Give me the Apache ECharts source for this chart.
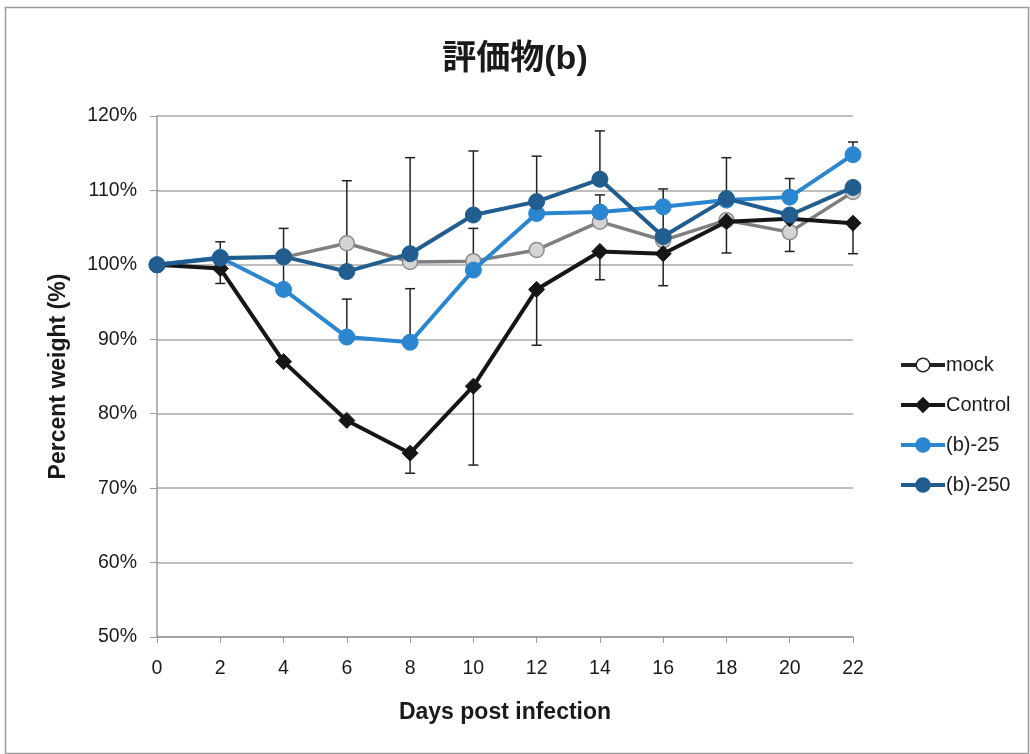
<!DOCTYPE html>
<html>
<head>
<meta charset="utf-8">
<script src="https://cdn.jsdelivr.net/npm/echarts@6/dist/echarts.min.js"></script>
<style>
html,body{margin:0;padding:0;background:#fff;}
#c{width:1030px;height:754px;}
</style>
</head>
<body>
<div id="c"></div>
<script>
var days = ['0','2','4','6','8','10','12','14','16','18','20','22'];
var yTicks = [50, 60, 70, 80, 90, 100, 110, 120];
var mock    = [100, 101.0, 101.0, 102.9, 100.4, 100.5, 102.0, 105.8, 103.3, 106.0, 104.4, 109.8];
var control = [100, 99.5, 87.0, 79.1, 74.7, 83.7, 96.7, 101.8, 101.5, 105.8, 106.2, 105.6];
var b25     = [100, 101.0, 96.7, 90.3, 89.6, 99.3, 106.9, 107.1, 107.8, 108.7, 109.1, 114.8];
var b250    = [100, 100.9, 101.1, 99.1, 101.5, 106.7, 108.5, 111.5, 103.8, 108.9, 106.7, 110.4];
// error bar segments: day index, low, high
var errDay  = [1, 2, 3, 3, 4, 4, 4, 5, 5, 5, 6, 6, 7, 7, 7, 8, 8, 9, 9, 10, 10, 11, 11];
var errLow  = [97.5, 96.9, 99.1, 90.3, 101.5, 89.6, 72.0, 106.7, 99.3, 73.1, 108.5, 89.2, 111.5, 107.1, 98.0, 103.8, 97.2, 108.9, 101.6, 109.1, 101.8, 114.8, 101.5];
var errHigh = [103.1, 104.9, 111.3, 95.4, 114.4, 96.8, 74.7, 115.3, 104.9, 83.7, 114.6, 96.7, 118.0, 109.4, 101.8, 110.2, 101.5, 114.4, 105.8, 111.6, 106.2, 116.5, 105.6];

var errData = errDay.map(function (d, i) { return [d, errLow[i], errHigh[i]]; });

var FONT = '"Liberation Sans", Arial, "Noto Sans CJK JP", sans-serif';
var chart = echarts.init(document.getElementById('c'));
chart.setOption({
  animation: false,
  backgroundColor: '#fff',
  textStyle: { fontFamily: FONT },
  graphic: [{
    type: 'rect', shape: { x: 5.5, y: 7.5, width: 1023, height: 746 }, silent: true,
    style: { fill: 'none', stroke: '#9a9a9a', lineWidth: 1.5 }, z: -10
  }],
  title: {
    text: '評価物(b)', left: 'center', top: 38,
    textStyle: { fontFamily: FONT, fontSize: 34, fontWeight: 'bold', color: '#1a1a1a' }
  },
  legend: {
    orient: 'vertical', left: 894, top: 350, itemGap: 20, itemWidth: 44, itemHeight: 17,
    textStyle: { fontFamily: FONT, fontSize: 20, color: '#1a1a1a', padding: [0, 0, 0, -4] },
    data: [
      { name: 'mock', itemStyle: { color: '#ffffff', borderColor: '#222', borderWidth: 1.5 }, lineStyle: { color: '#222', width: 4 } },
      { name: 'Control', lineStyle: { width: 4 } },
      { name: '(b)-25', lineStyle: { width: 4 } },
      { name: '(b)-250', lineStyle: { width: 4 } }
    ]
  },
  grid: { left: 157, right: 177, top: 116, bottom: 117, containLabel: false },
  xAxis: {
    type: 'category', data: days, boundaryGap: false,
    name: 'Days post infection', nameLocation: 'middle', nameGap: 64,
    nameTextStyle: { fontFamily: FONT, fontSize: 23, fontWeight: 'bold', color: '#1a1a1a' },
    axisLine: { lineStyle: { color: '#9a9a9a', width: 1.5 } },
    axisTick: { show: true, length: 6, lineStyle: { color: '#9a9a9a' } },
    axisLabel: { margin: 22, fontSize: 19.5, color: '#1a1a1a', fontFamily: FONT },
    splitLine: { show: false }
  },
  yAxis: {
    type: 'value', min: 50, max: 120, interval: 10,
    name: 'Percent weight (%)', nameLocation: 'middle', nameGap: 87,
    nameTextStyle: { fontFamily: FONT, fontSize: 23, fontWeight: 'bold', color: '#1a1a1a' },
    axisLine: { show: true, lineStyle: { color: '#9a9a9a', width: 1.5 } },
    axisTick: { show: true, length: 7, lineStyle: { color: '#9a9a9a' } },
    axisLabel: {
      margin: 20, fontSize: 19.5, color: '#1a1a1a', fontFamily: FONT,
      formatter: function (v) { return yTicks.indexOf(v) >= 0 ? v + '%' : ''; }
    },
    splitLine: { lineStyle: { color: '#a8a8a8', width: 1.5 } }
  },
  series: [
    {
      name: 'errors', type: 'custom', z: 1, silent: true, data: errData,
      renderItem: function (params, api) {
        var x = api.value(0);
        var lo = api.coord([x, api.value(1)]);
        var hi = api.coord([x, api.value(2)]);
        var w = 5;
        var st = { stroke: '#222', lineWidth: 1.5 };
        return {
          type: 'group',
          children: [
            { type: 'line', shape: { x1: lo[0], y1: lo[1], x2: hi[0], y2: hi[1] }, style: st },
            { type: 'line', shape: { x1: hi[0] - w, y1: hi[1], x2: hi[0] + w, y2: hi[1] }, style: st },
            { type: 'line', shape: { x1: lo[0] - w, y1: lo[1], x2: lo[0] + w, y2: lo[1] }, style: st }
          ]
        };
      }
    },
    {
      name: 'mock', type: 'line', data: mock, z: 2,
      symbol: 'circle', symbolSize: 15,
      lineStyle: { color: '#7f7f7f', width: 3.5 },
      itemStyle: { color: '#d4d4d4', borderColor: '#8a8a8a', borderWidth: 1.5 }
    },
    {
      name: 'Control', type: 'line', data: control, z: 3,
      symbol: 'diamond', symbolSize: 16,
      lineStyle: { color: '#161616', width: 4 },
      itemStyle: { color: '#161616', borderColor: '#161616', borderWidth: 1 }
    },
    {
      name: '(b)-25', type: 'line', data: b25, z: 4,
      symbol: 'circle', symbolSize: 16,
      lineStyle: { color: '#2b86d0', width: 4 },
      itemStyle: { color: '#2b86d0', borderColor: '#2b86d0', borderWidth: 1 }
    },
    {
      name: '(b)-250', type: 'line', data: b250, z: 5,
      symbol: 'circle', symbolSize: 16,
      lineStyle: { color: '#215d8f', width: 4 },
      itemStyle: { color: '#215d8f', borderColor: '#215d8f', borderWidth: 1 }
    }
  ]
});
</script>
</body>
</html>
